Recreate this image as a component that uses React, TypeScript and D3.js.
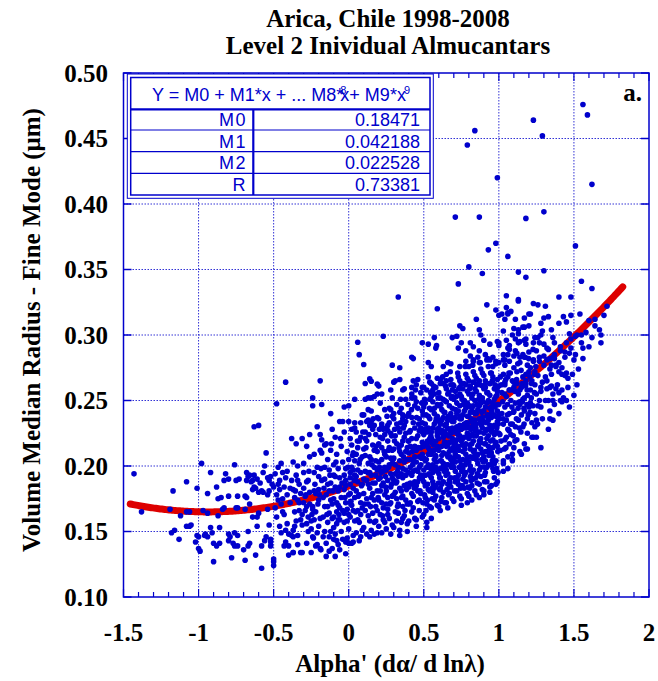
import React from "react";
import * as d3 from "d3";

const titleLines = ["Arica, Chile 1998-2008", "Level 2 Inividual Almucantars"];
const xTicks = [-1.5, -1, -0.5, 0, 0.5, 1, 1.5, 2];
const xTickLabels = ["-1.5", "-1", "-0.5", "0", "0.5", "1", "1.5", "2"];
const yTicks = [0.1, 0.15, 0.2, 0.25, 0.3, 0.35, 0.4, 0.45, 0.5];
const yTickLabels = ["0.10", "0.15", "0.20", "0.25", "0.30", "0.35", "0.40", "0.45", "0.50"];
const fitCoeffs = [0.18471, 0.042188, 0.022528];
const fitRange = [-1.455, 1.825];
const legendLabels = ["M0", "M1", "M2", "R"];
const legendValues = ["0.18471", "0.042188", "0.022528", "0.73381"];

const leftPts = [
[-1.43,.194],[-1.38,.165],[-1.17,.181],[-1.19,.167],[-1.12,.162],[-1.08,.188],[-1.18,.149],[-1.16,.151],[-1.13,.144],[-1.08,.154],[-1.06,.154],[-1.05,.155],[-1.08,.165],[-1.06,.165],[-1.01,.183],[-.98,.202],[-1.01,.147],[-1.0,.146],[-1.0,.137],[-.99,.135],[-1.02,.142],[-.97,.166],[-.96,.147],[-.955,.148],[-.94,.146],[-.92,.195],[-.94,.179],[-.94,.164],[-.92,.153],[-.90,.127],[-.88,.184],[-.87,.175],[-.85,.176],[-.86,.153],[-.91,.149],[-.90,.141],[-.88,.139],[-.86,.141],[-.82,.194],[-.80,.190],[-.83,.189],[-.80,.148],[-.80,.143],[-.79,.146],[-.78,.130],[-.87,.162],[-.84,.167],[-.83,.168],[-.80,.177],[-.76,.201],[-.75,.189],[-.73,.190],[-.74,.177],[-.75,.168],[-.74,.168],[-.76,.149],[-.74,.147],[-.77,.141],[-.76,.139],[-.74,.139],[-.70,.136],[-.69,.128],[-.68,.195],[-.67,.192],[-.66,.193],[-.68,.189],[-.69,.177],[-.65,.188],[-.64,.189],[-.63,.184],[-.64,.182],[-.68,.176],[-.66,.171],[-.69,.167],[-.61,.161],[-.61,.154],[-.61,.190],[-.59,.187],[-.63,.230],[-.60,.231],[-.63,.193],[-.62,.183],[-.60,.180],[-.58,.181],[-.57,.180],[-.57,.195],[-.56,.200],[-.55,.210],[-.58,.139],[-.56,.143],[-.55,.146],[-.58,.122],[-.62,.132],[-.67,.139],[-.66,.141],[-.67,.150],[-.64,.161],[-.60,.164],[-.54,.191],[-.53,.189],[-.52,.192],[-.54,.178],[-.53,.181],[-.54,.167],[-.53,.155],[-.52,.144],[-.52,.142],[-.52,.139],[-.50,.129],[-.50,.127],[-.50,.124],[-.50,.184],[-.51,.186]
];

const midLeftPts = [
[-.42,.264],[-.48,.2475],[-.49,.194],[-.47,.199],[-.45,.202],[-.44,.195],[-.46,.189],[-.42,.191],[-.41,.196],[-.46,.182],[-.43,.184],[-.48,.178],[-.47,.174],[-.44,.175],[-.49,.168],[-.48,.161],[-.46,.154],[-.45,.149],[-.42,.151],[-.42,.142],[-.43,.139],[-.40,.139],[-.40,.132],[-.37,.134],[-.37,.146],[-.38,.221],[-.35,.217],[-.31,.221],[-.28,.215],[-.26,.207],[-.24,.252],[-.24,.246],[-.19,.265],[-.18,.247],[-.21,.230],[-.19,.224],[-.18,.220],[-.19,.212],[-.18,.210],[-.16,.216],[-.15,.217],[-.37,.203],[-.34,.200],[-.30,.202],[-.34,.189],[-.30,.195],[-.38,.189],[-.37,.182],[-.33,.186],[-.30,.183],[-.32,.179],
[-.27,.189],[-.23,.195],[-.20,.192],[-.18,.189],[-.26,.180],[-.22,.179],[-.20,.174],[-.16,.169],[-.34,.174],[-.30,.172],[-.28,.169],[-.24,.169],[-.36,.165],[-.33,.166],[-.29,.166],[-.24,.167],[-.32,.159],[-.28,.156],[-.23,.159],[-.20,.154],[-.17,.161],[-.36,.154],[-.31,.155],[-.25,.152],[-.21,.149],[-.41,.156],[-.37,.151],[-.38,.147],[-.34,.140],[-.31,.134],[-.28,.141],[-.24,.146],[-.22,.139],[-.19,.137],[-.185,.136],[-.37,.134],[-.32,.134],[-.25,.134],
[-.16,.150],[-.13,.146],[-.10,.153],[-.08,.156],[-.06,.159],[-.03,.164],[-.01,.167],[-.15,.141],[-.10,.144],[-.07,.140],[-.04,.144],[-.01,.145],[-.13,.135],[-.11,.137],[-.06,.136],[-.02,.142],[-.13,.197],[-.10,.193],[-.06,.191],[-.02,.189],[.01,.195],[-.12,.187],[-.09,.184],[-.03,.182],[.01,.179],[-.12,.174],[-.08,.172],[-.06,.168],[.01,.172],[-.13,.164],[-.10,.161],[-.07,.159],
[-.14,.205],[-.12,.212],[-.10,.201],[-.09,.222],[-.08,.209],[-.07,.198],[-.05,.215],[-.04,.203],[-.03,.226],[-.02,.198],[-.01,.211],[-.11,.228],[-.16,.199],[-.14,.186],[-.07,.181],[-.05,.176],[-.02,.185],[-.26,.224],[-.23,.209],[-.21,.199],[-.12,.240],[-.06,.234],[-.03,.245],[-.09,.192],[-.15,.178],[-.11,.171],[-.17,.146],[-.05,.150],[-.03,.157],[-.44,.165],[-.39,.172],[-.35,.158],[-.27,.161],[-.14,.157],[-.08,.165],[-.02,.133],[-.09,.131],
[-.47,.186],[-.45,.171],[-.43,.163],[-.41,.178],[-.39,.183],[-.36,.176],[-.35,.193],[-.33,.172],[-.31,.163],[-.29,.177],[-.28,.188],[-.26,.171],[-.25,.158],[-.23,.181],[-.22,.165],[-.20,.182],[-.19,.160],[-.17,.176],[-.16,.190],[-.14,.169],[-.13,.181],[-.11,.160],[-.10,.175],[-.09,.148],[-.07,.170],[-.06,.184],[-.04,.166],[-.03,.193],[-.02,.172],[-.01,.158],[-.40,.148],[-.34,.147],[-.27,.150],[-.21,.140],[-.15,.131],[-.12,.150],[-.08,.143],[-.04,.234],
[-.285,.178],[-.265,.196],[-.245,.163],[-.225,.186],[-.205,.171],[-.185,.198],[-.165,.183],[-.145,.163],[-.125,.193],[-.105,.181],[-.085,.203],[-.065,.163],[-.045,.187],[-.025,.176],[-.005,.199],[-.115,.217],[-.055,.221],[-.195,.178],[-.235,.145],[-.355,.181]
];

const coreLowPts = [
[.00,.152],[.01,.161],[.03,.147],[.02,.170],[.04,.158],[.00,.178],[.03,.183],[.01,.191],[.04,.176],[.02,.199],[.00,.205],[.03,.210],[.04,.193],[.01,.221],[.02,.216],[.04,.229],[.00,.163],[.02,.141],[.03,.166],[.04,.204],[.01,.186],[.03,.197],[.02,.228],[.00,.246],[.04,.251],[.03,.142],
[.05,.149],[.07,.157],[.09,.151],[.06,.166],[.08,.172],[.05,.181],[.09,.168],[.06,.188],[.08,.195],[.07,.202],[.05,.209],[.09,.186],[.06,.214],[.08,.222],[.07,.178],[.09,.207],[.05,.226],[.08,.233],[.06,.197],[.07,.143],[.09,.239],[.06,.159],[.08,.163],[.07,.219],[.05,.192],
[.10,.153],[.12,.148],[.14,.158],[.11,.166],[.13,.171],[.10,.179],[.14,.183],[.12,.189],[.11,.196],[.13,.202],[.14,.207],[.10,.213],[.12,.219],[.11,.226],[.14,.231],[.13,.243],[.10,.239],[.12,.175],[.14,.195],[.13,.162],[.11,.208],[.12,.234],[.14,.146],[.10,.190],[.13,.186],[.11,.221],
[.15,.151],[.17,.157],[.19,.149],[.16,.164],[.18,.169],[.15,.176],[.19,.181],[.16,.187],[.18,.193],[.17,.199],[.15,.205],[.19,.211],[.16,.216],[.18,.224],[.17,.231],[.19,.237],[.15,.242],[.18,.204],[.16,.179],[.19,.166],[.17,.212],[.15,.193],[.18,.158],[.16,.228],[.19,.197],[.17,.174],
[.20,.154],[.22,.149],[.24,.157],[.21,.163],[.23,.168],[.20,.174],[.24,.178],[.22,.185],[.21,.191],[.23,.196],[.20,.203],[.24,.209],[.22,.214],[.21,.222],[.23,.228],[.20,.236],[.24,.243],[.22,.172],[.21,.181],[.23,.187],[.24,.199],[.20,.217],[.22,.205],[.23,.159],[.21,.248],[.24,.224],[.20,.190],[.22,.232],
[.25,.152],[.27,.160],[.29,.155],[.26,.167],[.28,.172],[.25,.181],[.29,.177],[.26,.189],[.28,.194],[.27,.201],[.25,.207],[.29,.212],[.26,.219],[.28,.225],[.27,.233],[.29,.238],[.25,.197],[.28,.184],[.26,.176],[.29,.202],[.27,.214],[.25,.229],[.28,.206],[.26,.163],[.29,.191],[.27,.244],[.25,.171],
[.30,.153],[.32,.158],[.34,.151],[.31,.165],[.33,.171],[.30,.178],[.34,.183],[.32,.188],[.31,.194],[.33,.199],[.30,.206],[.34,.211],[.32,.217],[.31,.223],[.33,.229],[.30,.236],[.34,.241],[.32,.247],[.31,.180],[.33,.192],[.34,.204],[.30,.213],[.32,.175],[.33,.164],[.31,.201],[.34,.226],[.30,.189],[.32,.232],
[.35,.157],[.37,.162],[.39,.156],[.36,.169],[.38,.174],[.35,.181],[.39,.186],[.36,.191],[.38,.197],[.37,.203],[.35,.209],[.39,.214],[.36,.219],[.38,.225],[.37,.231],[.39,.238],[.35,.244],[.38,.251],[.36,.198],[.37,.185],[.39,.205],[.35,.216],[.38,.211],[.36,.177],[.37,.222],[.39,.171],[.35,.194],[.38,.234],[.36,.160],
[.40,.158],[.42,.165],[.44,.160],[.41,.172],[.43,.177],[.40,.184],[.44,.188],[.42,.193],[.41,.199],[.43,.204],[.40,.210],[.44,.215],[.42,.221],[.41,.227],[.43,.233],[.40,.240],[.44,.246],[.42,.252],[.41,.187],[.43,.196],[.44,.207],[.40,.219],[.42,.179],[.43,.213],[.41,.205],[.44,.229],[.40,.195],[.42,.237],[.43,.168],[.41,.215],
[.45,.159],[.47,.166],[.49,.161],[.46,.173],[.48,.179],[.45,.185],[.49,.190],[.46,.196],[.48,.201],[.47,.207],[.45,.212],[.49,.218],[.46,.223],[.48,.229],[.47,.236],[.49,.242],[.45,.249],[.48,.256],[.46,.188],[.47,.199],[.49,.209],[.45,.221],[.48,.214],[.46,.181],[.47,.227],[.49,.233],[.45,.203],[.48,.193],[.46,.244],[.47,.174],[.49,.226],
[.015,.173],[.026,.208],[.037,.189],[.046,.165],[.058,.219],[.064,.177],[.076,.205],[.085,.185],[.094,.226],[.106,.171],[.115,.214],[.127,.195],[.134,.224],[.146,.169],[.155,.201],[.163,.236],[.176,.187],[.184,.215],[.196,.176],[.204,.228],[.215,.195],[.226,.162],[.236,.211],[.247,.184],[.255,.238],[.266,.199],[.274,.171],[.286,.223],[.295,.205],[.306,.228],
[.205,.199],[.225,.221],[.245,.192],[.265,.212],[.285,.186],[.305,.219],[.325,.196],[.345,.233],[.365,.207],[.385,.182],[.405,.226],[.425,.211],[.445,.197],[.465,.232],[.485,.206],[.505,.251],[.525,.219],[.545,.198],[.325,.169],[.375,.166],[.425,.186],[.475,.181],[.525,.174],[.345,.251],[.395,.247],[.445,.258],[.495,.239]
];

const coreHighPts = [
[.50,.163],[.52,.157],[.54,.169],[.51,.176],[.53,.182],[.50,.188],[.54,.193],[.52,.199],[.51,.204],[.53,.209],[.50,.215],[.54,.221],[.52,.226],[.51,.232],[.53,.238],[.50,.245],[.54,.251],[.52,.258],[.51,.193],[.53,.201],[.54,.212],[.50,.224],[.52,.217],[.51,.185],[.53,.229],[.54,.236],[.50,.206],[.52,.171],[.51,.248],[.53,.214],[.54,.181],[.50,.197],
[.55,.168],[.57,.174],[.59,.170],[.56,.180],[.58,.185],[.55,.191],[.59,.196],[.56,.201],[.58,.207],[.57,.212],[.55,.218],[.59,.223],[.56,.229],[.58,.234],[.57,.240],[.59,.247],[.55,.253],[.58,.260],[.56,.195],[.57,.205],[.59,.215],[.55,.226],[.58,.219],[.56,.188],[.57,.232],[.59,.238],[.55,.209],[.58,.199],[.56,.249],[.57,.183],[.59,.228],[.55,.243],[.58,.177],
[.60,.169],[.62,.176],[.64,.172],[.61,.183],[.63,.188],[.60,.194],[.64,.199],[.61,.204],[.63,.210],[.62,.215],[.60,.221],[.64,.226],[.61,.232],[.63,.237],[.62,.243],[.64,.250],[.60,.256],[.63,.263],[.61,.198],[.62,.208],[.64,.218],[.60,.229],[.63,.222],[.61,.191],[.62,.235],[.64,.241],[.60,.212],[.63,.202],[.61,.252],[.62,.186],[.64,.231],[.60,.246],[.63,.180],[.62,.225],
[.65,.172],[.67,.179],[.69,.175],[.66,.186],[.68,.191],[.65,.197],[.69,.202],[.66,.207],[.68,.213],[.67,.218],[.65,.224],[.69,.229],[.66,.235],[.68,.240],[.67,.246],[.69,.253],[.65,.259],[.68,.266],[.66,.201],[.67,.211],[.69,.221],[.65,.232],[.68,.225],[.66,.194],[.67,.238],[.69,.244],[.65,.215],[.68,.205],[.66,.255],[.67,.189],[.69,.234],[.65,.249],[.68,.184],[.67,.228],[.66,.216],
[.70,.173],[.72,.181],[.74,.177],[.71,.188],[.73,.193],[.70,.199],[.74,.204],[.71,.209],[.73,.215],[.72,.220],[.70,.226],[.74,.231],[.71,.237],[.73,.242],[.72,.248],[.74,.255],[.70,.261],[.73,.268],[.71,.203],[.72,.213],[.74,.223],[.70,.234],[.73,.227],[.71,.196],[.72,.240],[.74,.246],[.70,.217],[.73,.207],[.71,.257],[.72,.191],[.74,.236],[.70,.251],[.73,.186],[.72,.230],[.71,.218],[.74,.265],
[.75,.175],[.77,.183],[.79,.179],[.76,.190],[.78,.195],[.75,.201],[.79,.206],[.76,.211],[.78,.217],[.77,.222],[.75,.228],[.79,.233],[.76,.239],[.78,.244],[.77,.250],[.79,.257],[.75,.263],[.78,.270],[.76,.205],[.77,.215],[.79,.225],[.75,.236],[.78,.229],[.76,.198],[.77,.242],[.79,.248],[.75,.219],[.78,.209],[.76,.259],[.77,.193],[.79,.238],[.75,.253],[.78,.188],[.77,.232],[.76,.221],[.79,.267],
[.80,.177],[.82,.185],[.84,.181],[.81,.192],[.83,.197],[.80,.203],[.84,.208],[.81,.213],[.83,.219],[.82,.224],[.80,.230],[.84,.235],[.81,.241],[.83,.246],[.82,.252],[.84,.259],[.80,.265],[.83,.272],[.81,.207],[.82,.217],[.84,.227],[.80,.238],[.83,.231],[.81,.200],[.82,.244],[.84,.250],[.80,.221],[.83,.211],[.81,.261],[.82,.195],[.84,.240],[.80,.255],[.83,.190],[.82,.234],[.81,.223],[.84,.269],
[.85,.178],[.87,.186],[.89,.182],[.86,.193],[.88,.199],[.85,.205],[.89,.210],[.86,.215],[.88,.221],[.87,.226],[.85,.232],[.89,.237],[.86,.243],[.88,.248],[.87,.254],[.89,.261],[.85,.267],[.88,.274],[.86,.209],[.87,.219],[.89,.229],[.85,.240],[.88,.233],[.86,.202],[.87,.246],[.89,.252],[.85,.223],[.88,.213],[.86,.263],[.87,.197],[.89,.242],[.85,.257],[.88,.192],[.87,.236],[.86,.226],[.89,.271],
[.90,.181],[.92,.188],[.94,.184],[.91,.195],[.93,.201],[.90,.207],[.94,.212],[.91,.217],[.93,.223],[.92,.228],[.90,.234],[.94,.239],[.91,.245],[.93,.250],[.92,.256],[.94,.263],[.90,.269],[.93,.276],[.91,.211],[.92,.221],[.94,.231],[.90,.242],[.93,.235],[.91,.204],[.92,.248],[.94,.254],[.90,.225],[.93,.215],[.91,.265],[.92,.199],[.94,.244],[.90,.259],[.92,.238],
[.95,.185],[.97,.191],[.99,.188],[.96,.198],[.98,.204],[.95,.210],[.99,.215],[.96,.220],[.98,.226],[.97,.231],[.95,.237],[.99,.242],[.96,.248],[.98,.253],[.97,.259],[.99,.266],[.95,.271],[.98,.278],[.96,.214],[.97,.224],[.99,.234],[.95,.245],[.98,.238],[.96,.207],[.97,.251],[.99,.257],[.95,.228],[.98,.218],[.96,.268],[.97,.202],[.99,.247],
[.505,.178],[.515,.239],[.535,.194],[.545,.256],[.565,.216],[.585,.203],[.595,.252],[.615,.226],[.625,.199],[.635,.241],[.655,.182],[.665,.223],[.685,.199],[.695,.262],[.715,.229],[.735,.212],[.745,.183],[.765,.231],[.785,.203],[.805,.246],[.815,.189],[.835,.223],[.855,.208],[.875,.262],[.885,.231],[.905,.217],[.925,.239],[.945,.201],[.955,.226],[.975,.245],[.985,.198],[.515,.166],[.615,.173],[.705,.181],[.805,.183],[.905,.188],[.995,.195],[.565,.185],[.665,.178],[.755,.251],[.855,.247],[.945,.271]
];

const coreExtraPts = [
[.315,.187],[.335,.214],[.352,.176],[.364,.229],[.381,.193],[.396,.219],[.405,.171],[.418,.243],[.426,.201],[.437,.183],[.452,.237],[.463,.214],[.471,.191],[.486,.248],[.494,.172],[.503,.228],[.517,.205],[.526,.186],[.538,.244],[.547,.223],[.556,.175],[.565,.261],[.574,.197],[.583,.236],[.596,.213],[.605,.182],[.614,.247],[.623,.227],[.636,.196],[.645,.261],[.653,.209],[.662,.238],[.674,.187],[.683,.252],[.692,.219],[.703,.206],[.712,.243],[.725,.189],[.733,.259],[.744,.222],[.753,.196],[.762,.247],[.774,.213],[.783,.233],[.795,.184],[.806,.259],[.813,.228],[.826,.206],[.834,.241],[.846,.191],[.853,.262],[.865,.216],[.874,.233],[.886,.205],[.894,.249],[.905,.193],[.913,.227],[.926,.256],[.934,.208],[.945,.219],[.953,.242],[.965,.196],[.974,.262],[.986,.229],[.993,.211],[1.006,.236],[1.015,.219],[1.026,.249],[1.037,.213],[1.046,.266],[1.057,.239],[1.068,.227],[1.076,.271],[1.087,.245],[1.096,.223],[1.108,.257],[1.117,.236],[1.126,.278],[1.138,.249],[1.147,.226],[1.156,.263],[1.167,.244],[1.176,.283],[1.188,.258],[1.196,.239],[1.207,.268],[1.216,.252],[1.228,.289],[1.237,.256],[1.246,.276],[1.258,.232],
[.552,.221],[.561,.199],[.571,.244],[.579,.208],[.588,.226],[.598,.187],[.607,.235],[.617,.204],[.628,.251],[.638,.218],[.648,.193],[.657,.229],[.667,.256],[.676,.207],[.687,.237],[.697,.214],[.706,.191],[.717,.253],[.727,.224],[.737,.199],[.746,.238],[.756,.216],[.767,.263],[.776,.201],[.786,.245],[.796,.222],[.807,.197],[.816,.236],[.827,.255],[.837,.212],[.847,.229],[.857,.194],[.866,.251],[.877,.218],[.887,.241],[.897,.203],[.907,.262],[.916,.233],[.927,.211],[.937,.249],[.946,.227],[.957,.265],[.966,.239],[.976,.217],[.987,.254],[.996,.232],[1.007,.224],[1.017,.262],[1.028,.236],[1.038,.255],[1.047,.214],[1.058,.247],[1.067,.271],[1.078,.232],[1.088,.258],[1.098,.241],[1.107,.219],[1.118,.266],[1.128,.244],[1.137,.229],[1.148,.273],[1.157,.249],[1.168,.232],[1.178,.261],[1.187,.247],[1.198,.282],[1.208,.241],[1.217,.263],[1.227,.246],[1.238,.270],
[.556,.183],[.606,.191],[.656,.201],[.706,.211],[.756,.185],[.806,.216],[.856,.187],[.906,.199],[.956,.204],[.626,.268],[.676,.272],[.726,.271],[.776,.276],[.826,.277],[.876,.279],[.926,.282]
];

const rightPts = [
[1.02,.316],[1.06,.316],[1.04,.312],[1.17,.313],[1.20,.316],[1.28,.309],[1.33,.314],[1.45,.310],[1.16,.306],[1.20,.307],[1.29,.303],[1.28,.300],[1.09,.300],[1.13,.301],[1.00,.294],[1.05,.296],[1.13,.294],[1.18,.293],[1.23,.294],[1.52,.300],[1.55,.300],[1.47,.301],
[1.03,.285],[1.07,.289],[1.11,.288],[1.16,.285],[1.20,.287],[1.25,.288],[1.30,.284],[1.34,.282],[1.37,.285],[1.41,.288],
[1.04,.277],[1.07,.280],[1.10,.275],[1.14,.279],[1.19,.277],[1.23,.280],[1.30,.277],[1.34,.274],[1.38,.277],[1.40,.272],[1.44,.269],[1.46,.267],
[1.03,.270],[1.06,.268],[1.09,.265],[1.12,.272],[1.16,.268],[1.18,.263],[1.22,.265],[1.26,.269],[1.29,.264],[1.32,.259],[1.35,.261],[1.38,.259],[1.40,.256],[1.43,.252],[1.45,.250],
[1.00,.261],[1.02,.256],[1.05,.253],[1.07,.258],[1.10,.260],[1.13,.255],[1.16,.251],[1.19,.254],[1.21,.258],[1.25,.255],[1.27,.250],[1.28,.245],[1.34,.242],[1.37,.247],[1.33,.250],[1.41,.250],
[1.00,.247],[1.04,.245],[1.07,.240],[1.10,.242],[1.14,.247],[1.17,.242],[1.20,.245],[1.24,.240],[1.25,.235],[1.00,.239],[1.03,.232],[1.06,.228],[1.09,.232],[1.13,.235],[1.16,.230],[1.19,.225],[1.23,.222],[1.24,.230],
[1.00,.225],[1.04,.220],[1.07,.217],[1.10,.214],[1.12,.220],[1.17,.217],[1.05,.222],[1.01,.212],[1.06,.207],[1.09,.209],[1.14,.211],[1.18,.213],[1.22,.222],[1.28,.214],[1.03,.204],[1.09,.204],[1.15,.209],[1.03,.202],[1.09,.205],[1.19,.213],[1.25,.222],[1.34,.236],[1.42,.249],[1.50,.254],
[1.01,.268],[1.02,.240],[1.04,.262],[1.05,.235],[1.06,.290],[1.08,.250],[1.08,.224],[1.11,.248],[1.11,.230],[1.12,.263],[1.14,.283],[1.15,.239],[1.15,.260],[1.17,.252],[1.18,.270],[1.19,.236],[1.21,.248],[1.21,.275],[1.22,.233],[1.24,.262],[1.26,.246],[1.27,.280],[1.28,.257],[1.29,.236],[1.31,.268],[1.31,.250],[1.32,.290],[1.33,.228],[1.35,.270],[1.36,.255],[1.37,.282],[1.39,.262],[1.40,.240],[1.42,.275],[1.44,.283],[1.46,.260],[1.48,.290],[1.49,.270],[1.51,.285],[1.56,.290],[1.58,.302],[1.62,.298],[1.64,.312],[1.70,.315],[1.72,.322],[1.56,.282],[1.47,.245],[1.52,.262],[1.26,.298],[1.17,.296],[1.11,.312],[1.35,.304],[1.40,.309],[1.03,.303],[1.08,.318],[1.13,.326]
];

const upperPts = [
[.84,.456],[.79,.445],[.99,.420],[1.23,.464],[1.29,.452],[1.56,.476],[1.59,.468],[1.62,.415],
[.71,.390],[.87,.390],[1.18,.389],[1.30,.394],[1.51,.368],[.98,.370],[.93,.365],[1.06,.360],[.80,.352],[.89,.347],[1.13,.348],[1.18,.344],[1.30,.349],[1.55,.341],[.73,.339],[1.62,.3355],[.33,.329],[.59,.320],[.92,.323],[1.05,.330],[1.13,.327],[.98,.319],[1.00,.315],[1.05,.321],[1.06,.317],[1.23,.324],[1.26,.323],[1.31,.322],[1.40,.329],[1.48,.329],[1.54,.316],[1.43,.314],[1.48,.315],[.85,.312],[1.21,.316],[1.30,.313],[1.10,.305],[1.13,.304],[1.17,.306],[.74,.307],[.76,.305],[.23,.299],[.49,.294],[.53,.293],[.57,.298],[.58,.290],[.585,.292],[.43,.282],[.29,.277],[.34,.275],
[.69,.298],[.72,.299],[.75,.294],[.81,.294],[.83,.291],[.87,.304],[.88,.300],[.90,.296],[.94,.293],[.99,.295],[1.00,.292],[1.07,.292],[1.11,.297],[1.14,.295],[1.18,.297],[1.24,.298],[1.27,.294],[1.30,.293],[1.33,.289],[1.36,.298],[1.37,.294],[1.41,.291],[1.45,.294],[1.48,.297],[1.51,.299],[1.55,.294],[1.60,.291],[1.67,.304],[1.68,.300],[1.68,.294],[1.64,.307],[1.60,.311],
[.42,.283],[.53,.279],[.55,.276],[.63,.276],[.66,.279],[.68,.278],[.74,.276],[.78,.280],[.80,.276],[.83,.280],[.86,.283],[.87,.279],[.92,.281],[.96,.283],[1.00,.279],[1.04,.281],[1.10,.284],[1.12,.286],[1.17,.283],[1.23,.281],[1.27,.283],[1.32,.281],[1.36,.283],[1.40,.279],[1.44,.287],[1.47,.286],[1.50,.281],[1.53,.274],[1.42,.270],[1.45,.271],[1.35,.277],[1.38,.276],
[.30,.264],[.36,.258],[.43,.265],[.45,.262],[.50,.260],[.54,.264],[.56,.258],[.61,.266],[.65,.265],[.68,.262],[.69,.258],[.74,.260],[.78,.262],[.83,.264],[.87,.265],[.91,.260],[.94,.263],[.99,.260],[1.04,.264],[1.07,.258],[1.10,.264],[1.14,.258],[1.18,.265],[1.20,.272],[1.24,.272],[1.28,.260],[1.32,.265],[1.34,.260],[1.36,.250],[1.42,.258],[1.36,.235],
[.06,.2945],[.07,.285],[.10,.2775],[.11,.263],[.14,.2665],[.15,.2647],[.19,.2625],[.20,.261],[.22,.255],[.28,.258],[.31,.265],[.34,.266],[.46,.266],[.53,.268],[.59,.267],[.55,.263],[.57,.255],[.61,.263],[.65,.270],[.73,.290],[.78,.288],[.81,.284],[.83,.281],[.87,.288],[.91,.285],[.94,.281],[.96,.276],[.98,.280],[1.03,.281],[1.06,.285],
[.42,.260],[.49,.260],[.37,.259],[.29,.252],[.28,.243],[.30,.240],[.36,.239],[.36,.236],[.42,.255],[.44,.252],[.11,.251],[.13,.252],[.15,.252],[.17,.253],[.19,.255],[.00,.234],[.04,.233],[.13,.235],[.15,.234],[.22,.230],[.26,.231],[.26,.227]
];

const edgePts = [
[.75,.170],[.82,.174],[.87,.176],[.94,.180],[.98,.186],[1.03,.196],[1.06,.198],[.90,.178],[.79,.172],[.66,.168],[.61,.166],[.55,.160],[.52,.153],[.45,.154],[.39,.150],[.34,.147],[.28,.148],[.17,.148],[.08,.146],[.00,.141],[-.01,.142]
];

const allPoints = [...leftPts, ...midLeftPts, ...coreLowPts, ...coreHighPts, ...coreExtraPts, ...rightPts, ...upperPts, ...edgePts];

const W = 658, H = 681;
const x = d3.scaleLinear().domain([-1.5, 2]).range([123.5, 649]);
const y = d3.scaleLinear().domain([0.1, 0.5]).range([597, 73]);
const BLUE = "#0000cc";
const SERIF = "'Liberation Serif', 'Times New Roman', serif";
const SANS = "'Liberation Sans', Arial, sans-serif";
const FS = 25;

export default function App() {
  const fitXs = d3.range(fitRange[0], fitRange[1] + 1e-9, 0.01);
  const fitLine = d3.line<number>()
    .x((v) => x(v))
    .y((v) => y(fitCoeffs.reduce((s, c, i) => s + c * Math.pow(v, i), 0)));
  const minorX = d3.range(-1.5, 2.0001, 0.1);
  const [x0, x1] = x.range();
  const [yb, yt] = y.range();

  const rowLines = [109.3, 130, 151.7, 173.3];
  const rowBase = [126, 147.5, 169, 190.5];

  return (
    <svg width={W} height={H} style={{ position: "absolute", left: 0, top: 0, background: "#fff" }}>
      <rect x={0} y={0} width={W} height={H} fill="#fff" />
      {titleLines.map((t, i) => (
        <text key={t} x={388} y={27 + i * 27} textAnchor="middle" fontFamily={SERIF} fontWeight="bold" fontSize={FS} fill="#000">{t}</text>
      ))}
      {xTicks.slice(1, -1).map((v) => (
        <line key={"gx" + v} x1={x(v)} x2={x(v)} y1={yt} y2={yb} stroke={BLUE} strokeWidth={1} strokeDasharray="1.5,1.5" opacity={0.8} />
      ))}
      {yTicks.slice(1, -1).map((v) => (
        <line key={"gy" + v} x1={x0} x2={x1} y1={y(v)} y2={y(v)} stroke={BLUE} strokeWidth={1} strokeDasharray="1.5,1.5" opacity={0.8} />
      ))}
      <path d={fitLine(fitXs) || ""} fill="none" stroke="#dd0000" strokeWidth={7} strokeLinecap="round" />
      {allPoints.map((p, i) => (
        <circle key={i} cx={x(p[0])} cy={y(p[1])} r={2.8} fill={BLUE} />
      ))}
      {minorX.map((v, i) => {
        const major = i % 5 === 0;
        const len = major ? 8 : 5;
        return (
          <g key={"tx" + i}>
            <line x1={x(v)} x2={x(v)} y1={yb} y2={yb - len} stroke={BLUE} strokeWidth={1.2} />
            <line x1={x(v)} x2={x(v)} y1={yt} y2={yt + len} stroke={BLUE} strokeWidth={1.2} />
          </g>
        );
      })}
      {yTicks.map((v) => (
        <g key={"ty" + v}>
          <line x1={x0} x2={x0 + 8} y1={y(v)} y2={y(v)} stroke={BLUE} strokeWidth={1.5} />
          <line x1={x1} x2={x1 - 8} y1={y(v)} y2={y(v)} stroke={BLUE} strokeWidth={1.5} />
        </g>
      ))}
      <rect x={x0} y={yt} width={x1 - x0} height={yb - yt} fill="none" stroke={BLUE} strokeWidth={1.5} />
      {yTicks.map((v, i) => (
        <text key={"ly" + v} x={108} y={y(v) + 8.5} textAnchor="end" fontFamily={SERIF} fontWeight="bold" fontSize={FS} fill="#000">{yTickLabels[i]}</text>
      ))}
      {xTicks.map((v, i) => (
        <text key={"lx" + v} x={x(v)} y={641} textAnchor="middle" fontFamily={SERIF} fontWeight="bold" fontSize={FS} fill="#000">{xTickLabels[i]}</text>
      ))}
      <text x={390} y={672} textAnchor="middle" fontFamily={SERIF} fontWeight="bold" fontSize={FS} fill="#000">Alpha' (dα/ d lnλ)</text>
      <text transform="translate(40,330) rotate(-90)" textAnchor="middle" fontFamily={SERIF} fontWeight="bold" fontSize={FS} fill="#000">Volume Median Radius - Fine Mode (μm)</text>
      <text x={642} y={101} textAnchor="end" fontFamily={SERIF} fontWeight="bold" fontSize={25} fill="#000">a.</text>
      <g>
        <rect x={127.3} y={74} width={306} height={124.3} fill="#fff" stroke={BLUE} strokeWidth={1} />
        <rect x={130.7} y={77.5} width={299.3} height={117.5} fill="#fff" stroke={BLUE} strokeWidth={1.5} />
        {rowLines.map((ly, i) => (
          <line key={"rl" + i} x1={130.7} x2={430} y1={ly} y2={ly} stroke={BLUE} strokeWidth={i === 0 ? 2.2 : 1.2} />
        ))}
        <line x1={253.3} x2={253.3} y1={109.3} y2={195} stroke={BLUE} strokeWidth={2.2} />
        <text x={281} y={101} textAnchor="middle" fontFamily={SANS} fontSize={18} fill={BLUE}>
          {"Y = M0 + M1*x + ... M8*"}
          <tspan dy={-7} dx={-3} fontSize={11}>8</tspan>
          <tspan dy={7} dx={-6}>{"x+ M9*x"}</tspan>
          <tspan dy={-7} dx={-2} fontSize={11}>9</tspan>
        </text>
        {legendLabels.map((l, i) => (
          <g key={"lg" + l}>
            <text x={247} y={rowBase[i]} textAnchor="end" fontFamily={SANS} fontSize={18} letterSpacing={1.5} fill={BLUE}>{l}</text>
            <text x={420} y={rowBase[i]} textAnchor="end" fontFamily={SANS} fontSize={18} fill={BLUE}>{legendValues[i]}</text>
          </g>
        ))}
      </g>
    </svg>
  );
}
